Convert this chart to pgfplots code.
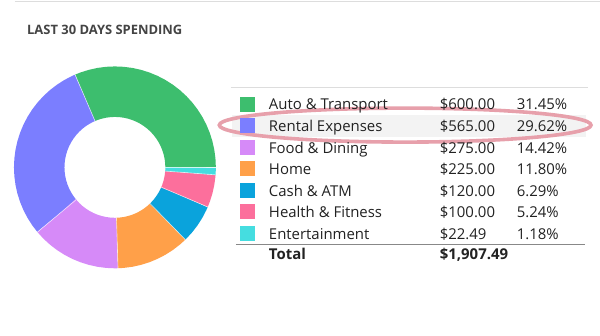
\documentclass[border=0pt]{standalone}
\usepackage{pgfplots}
\pgfplotsset{compat=1.18}
\usepgfplotslibrary{polar}
\usepackage{fontspec}
\setmainfont{Open Sans}
\definecolor{cAuto}{HTML}{3DBE6E}
\definecolor{cRent}{HTML}{7B7EFF}
\definecolor{cFood}{HTML}{D68AF8}
\definecolor{cHome}{HTML}{FFA049}
\definecolor{cCash}{HTML}{0AA3DC}
\definecolor{cHealth}{HTML}{FC6F9C}
\definecolor{cEnt}{HTML}{45DDE0}
\definecolor{titlec}{HTML}{444444}
\definecolor{txt}{HTML}{222222}
\definecolor{linec}{HTML}{DDDDDD}
\definecolor{totline}{HTML}{888888}
\definecolor{rowbg}{HTML}{F3F3F3}
\definecolor{hl}{HTML}{E7A0AB}
\newcommand{\tabtext}[5]{%
  \node[anchor=base west, inner sep=0, text=txt, font=#5] at (axis cs:269,#1) {#2};
  \node[anchor=base west, inner sep=0, text=txt, font=#5] at (axis cs:440,#1) {#3};
  \node[anchor=base west, inner sep=0, text=txt, font=#5] at (axis cs:517,#1) {#4};
}
\begin{document}
\begin{tikzpicture}
\begin{axis}[at={(0,0)}, anchor=south west, width=600bp, height=336bp, scale only axis,
  xmin=0, xmax=600, ymin=0, ymax=336, y dir=reverse, hide axis, clip=false]
\fill[white] (axis cs:0,0) rectangle (axis cs:600,336);
\draw[linec, line width=1bp] (axis cs:15,2) -- (axis cs:600,2);
\node[anchor=base west, inner sep=0, text=titlec, font=\fontsize{13}{15}\selectfont\bfseries] at (axis cs:27,34.3) {LAST 30 DAYS SPENDING};
\draw[linec, line width=0.8bp] (axis cs:231,87.3) -- (axis cs:588,87.3);
\fill[rowbg] (axis cs:232,115) rectangle (axis cs:586,137);
\draw[hl, line width=3.6bp] (axis cs:405.5,125.2) ellipse [x radius=186bp, y radius=17bp];
\draw[totline, line width=0.8bp] (axis cs:236,244.5) -- (axis cs:585,244.5);
\addplot[only marks, mark=square*, mark size=7bp, mark options={draw=cAuto, fill=cAuto}] coordinates {(247,104)};
\addplot[only marks, mark=square*, mark size=7bp, mark options={draw=cRent, fill=cRent}] coordinates {(247,125.6)};
\addplot[only marks, mark=square*, mark size=7bp, mark options={draw=cFood, fill=cFood}] coordinates {(247,147.2)};
\addplot[only marks, mark=square*, mark size=7bp, mark options={draw=cHome, fill=cHome}] coordinates {(247,168.6)};
\addplot[only marks, mark=square*, mark size=7bp, mark options={draw=cCash, fill=cCash}] coordinates {(247,190.3)};
\addplot[only marks, mark=square*, mark size=7bp, mark options={draw=cHealth, fill=cHealth}] coordinates {(247,211.8)};
\addplot[only marks, mark=square*, mark size=7bp, mark options={draw=cEnt, fill=cEnt}] coordinates {(247,233.2)};
\tabtext{110}{Auto \& Transport}{\$600.00}{31.45\%}{\fontsize{15}{18}\selectfont}
\tabtext{131.6}{Rental Expenses}{\$565.00}{29.62\%}{\fontsize{15}{18}\selectfont}
\tabtext{153.2}{Food \& Dining}{\$275.00}{14.42\%}{\fontsize{15}{18}\selectfont}
\tabtext{174.6}{Home}{\$225.00}{11.80\%}{\fontsize{15}{18}\selectfont}
\tabtext{196.3}{Cash \& ATM}{\$120.00}{6.29\%}{\fontsize{15}{18}\selectfont}
\tabtext{217.8}{Health \& Fitness}{\$100.00}{5.24\%}{\fontsize{15}{18}\selectfont}
\tabtext{239.2}{Entertainment}{\$22.49}{1.18\%}{\fontsize{15}{18}\selectfont}
\tabtext{259.5}{Total}{\$1,907.49}{}{\fontsize{15}{18}\selectfont\bfseries}
\end{axis}
\begin{polaraxis}[at={(115bp,168.5bp)}, anchor=center, width=202bp, height=202bp, scale only axis,
  hide axis, xmin=0, xmax=360, ymin=0, ymax=4, clip=false]
% Auto & Transport 600.00 -> 0 to 113.24 deg
\addplot[draw=cAuto, line width=50.5bp, mark=none] coordinates {(0,3)(0.2,3)(5,3)(10,3)(15,3)(20,3)(25,3)(30,3)(35,3)(40,3)(45,3)(50,3)(55,3)(60,3)(65,3)(70,3)(75,3)(80,3)(85,3)(90,3)(95,3)(100,3)(105,3)(110,3)(113.04,3)(113.24,3)};
% Rental Expenses 565.00 -> 113.24 to 219.87
\addplot[draw=cRent, line width=50.5bp, mark=none] coordinates {(113.24,3)(113.44,3)(115,3)(120,3)(125,3)(130,3)(135,3)(140,3)(145,3)(150,3)(155,3)(160,3)(165,3)(170,3)(175,3)(180,3)(185,3)(190,3)(195,3)(200,3)(205,3)(210,3)(215,3)(219.67,3)(219.87,3)};
% Food & Dining 275.00 -> 219.87 to 271.77
\addplot[draw=cFood, line width=50.5bp, mark=none] coordinates {(219.87,3)(220.07,3)(225,3)(230,3)(235,3)(240,3)(245,3)(250,3)(255,3)(260,3)(265,3)(270,3)(271.57,3)(271.77,3)};
% Home 225.00 -> 271.77 to 314.24
\addplot[draw=cHome, line width=50.5bp, mark=none] coordinates {(271.77,3)(271.97,3)(275,3)(280,3)(285,3)(290,3)(295,3)(300,3)(305,3)(310,3)(314.04,3)(314.24,3)};
% Cash & ATM 120.00 -> 314.24 to 336.88
\addplot[draw=cCash, line width=50.5bp, mark=none] coordinates {(314.24,3)(314.44,3)(315,3)(320,3)(325,3)(330,3)(335,3)(336.68,3)(336.88,3)};
% Health & Fitness 100.00 -> 336.88 to 355.76
\addplot[draw=cHealth, line width=50.5bp, mark=none] coordinates {(336.88,3)(337.08,3)(340,3)(345,3)(350,3)(355,3)(355.56,3)(355.76,3)};
% Entertainment 22.49 -> 355.76 to 360
\addplot[draw=cEnt, line width=50.5bp, mark=none] coordinates {(355.76,3)(355.96,3)(358,3)(359.8,3)(360,3)};
% thin separators
\addplot[white, line width=0.6bp, mark=none, opacity=0.7] coordinates {(0,2)(0,4)};
\addplot[white, line width=0.6bp, mark=none, opacity=0.7] coordinates {(113.24,2)(113.24,4)};
\addplot[white, line width=0.6bp, mark=none, opacity=0.7] coordinates {(219.87,2)(219.87,4)};
\addplot[white, line width=0.6bp, mark=none, opacity=0.7] coordinates {(271.77,2)(271.77,4)};
\addplot[white, line width=0.6bp, mark=none, opacity=0.7] coordinates {(314.24,2)(314.24,4)};
\addplot[white, line width=0.6bp, mark=none, opacity=0.7] coordinates {(336.88,2)(336.88,4)};
\addplot[white, line width=0.6bp, mark=none, opacity=0.7] coordinates {(355.76,2)(355.76,4)};
\end{polaraxis}
\end{tikzpicture}
\end{document}
